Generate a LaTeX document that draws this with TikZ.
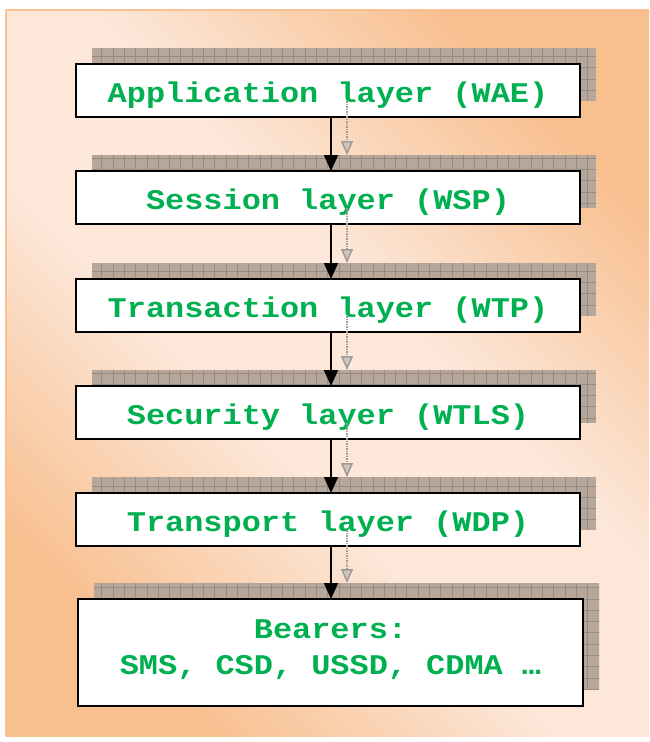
\documentclass[tikz,border=0pt]{standalone}
\usepackage{fontspec}
\newfontfamily\boxfont[FakeStretch=1.12]{Liberation Mono}
\usetikzlibrary{arrows.meta,backgrounds}

\definecolor{peachlight}{RGB}{252,231,216}
\definecolor{peachdark}{RGB}{248,191,143}
\definecolor{frameline}{RGB}{249,192,146}
\definecolor{layergreen}{RGB}{0,176,80}
\definecolor{shadowfill}{RGB}{183,167,155}
\definecolor{shadowgrid}{RGB}{150,137,128}
\definecolor{arrowghost}{RGB}{160,155,152}
\definecolor{arrowghostfill}{RGB}{205,198,193}

% diagonal band: orange corners, light along the other diagonal
\pgfdeclarehorizontalshading{peachband}{100bp}{%
  color(0bp)=(peachdark); color(25bp)=(peachdark);
  color(43bp)=(peachlight); color(57bp)=(peachlight);
  color(75bp)=(peachdark); color(100bp)=(peachdark)}

\tikzset{
  x=1pt, y=-1pt,
  layerbox/.style={draw=black, line width=2.5pt, fill=white,
    minimum width=504pt, minimum height=53pt, inner sep=0pt, outer sep=0pt,
    font=\boxfont\bfseries\fontsize{28.5}{36}\selectfont, text=layergreen,
    align=center, text height=25pt, text depth=2pt},
  flow/.style={line width=1.8pt, -{Triangle[length=16pt,width=14pt]}},
  ghostflow/.style={draw=arrowghost, line width=1.5pt, densely dotted,
    -{Triangle[length=14pt,width=12pt,fill=arrowghostfill]}},
  boxshadow/.style={fill=shadowfill},
}

\begin{document}
\begin{tikzpicture}
\useasboundingbox (0,0) rectangle (649,742);

% protocol stack
\node[layerbox] (wae)  at (328,90.5)  {Application layer (WAE)};
\node[layerbox] (wsp)  at (328,197.5) {Session layer (WSP)};
\node[layerbox] (wtp)  at (328,305.5) {Transaction layer (WTP)};
\node[layerbox] (wtls) at (328,412.5) {Security layer (WTLS)};
\node[layerbox] (wdp)  at (328,519.5) {Transport layer (WDP)};
\node[layerbox, minimum width=505pt, minimum height=107pt,
      text height=62pt, text depth=19pt] (bear) at (330.5,652.5)
  {Bearers:\\SMS, CSD, USSD, CDMA …};

\begin{pgfonlayer}{background}
  % panel
  \shade[shading=peachband, shading angle=45] (6,10) rectangle (649,736);
  \draw[frameline, line width=2pt] (6,736) -- (6,10) -- (649,10);
  % hatched drop shadows behind each layer
  \foreach \n in {wae,wsp,wtp,wtls,wdp,bear}{
    \path[boxshadow] ([shift={(16,-16)}]\n.south west) rectangle ([shift={(16,-16)}]\n.north east);
    \begin{scope}
      \clip ([shift={(16,-16)}]\n.south west) rectangle ([shift={(16,-16)}]\n.north east);
      \draw[shadowgrid, line width=0.7pt, step=11.3pt] ([shift={(16,-16)}]\n.south west) grid ([shift={(40,-40)}]\n.north east);
    \end{scope}
  }
\end{pgfonlayer}

% arrows between layers
\foreach \a/\b/\dx in {wae/wsp/3, wsp/wtp/3, wtp/wtls/3, wtls/wdp/3, wdp/bear/0.5}{
  \draw[flow] ([xshift=3pt]\a.south) -- ([xshift=\dx pt]\b.north);
  \draw[ghostflow] ([shift={(19,-16)}]\a.south) -- ([shift={(16+\dx,-16)}]\b.north);
}
\end{tikzpicture}
\end{document}
